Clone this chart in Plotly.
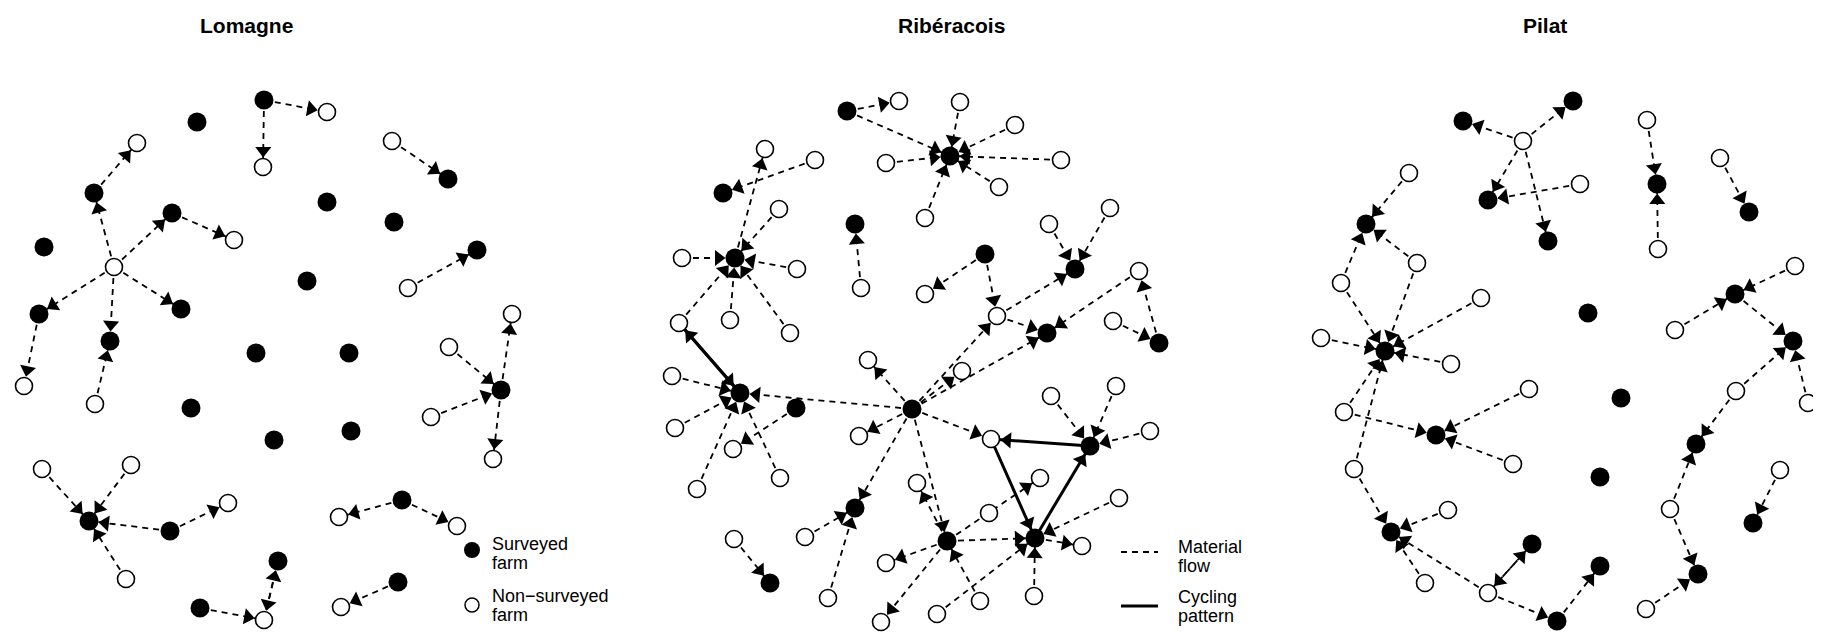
import math
import plotly.graph_objects as go

# ---------------- data ----------------
panel_titles = ["Lomagne", "Ribéracois", "Pilat"]

# Lomagne network (node layout coordinates, surveyed flag, directed flows)
lom_id = list(range(1, 47))
lom_x = [262, 325, 261, 195, 135, 92, 170, 232, 112, 42, 37, 22, 108, 93, 179, 325, 392, 305, 390, 446,
         475, 406, 510, 447, 499, 429, 491, 254, 347, 189, 272, 349, 40, 129, 87, 226, 168, 124, 400, 337,
         455, 276, 262, 198, 396, 339]
lom_y = [99, 111, 166, 121, 142, 192, 212, 239, 266, 246, 313, 385, 340, 403, 308, 201, 221, 280, 140, 178,
         249, 287, 313, 346, 389, 416, 458, 352, 352, 407, 439, 430, 468, 464, 520, 502, 530, 578, 499, 516,
         525, 560, 619, 607, 581, 606]
lom_surveyed = [1, 0, 0, 1, 0, 1, 1, 0, 0, 1, 1, 0, 1, 0, 1, 1, 1, 1, 0, 1,
                1, 0, 0, 0, 1, 0, 0, 1, 1, 1, 1, 1, 0, 0, 1, 0, 1, 0, 1, 0,
                0, 1, 0, 1, 1, 0]
lom_flows = [(1, 2), (1, 3), (6, 5), (7, 8), (9, 6), (9, 7), (9, 11), (9, 13), (9, 15), (11, 12),
             (14, 13), (19, 20), (22, 21), (24, 25), (26, 25), (25, 23), (25, 27), (33, 35), (34, 35),
             (37, 35), (38, 35), (37, 36), (39, 40), (39, 41), (44, 43), (42, 43), (43, 42), (45, 46)]
lom_cycles = []

# Ribéracois network
rib_id = [1, 2, 3, 4, 5, 6, 7, 8, 9, 10, 11, 12, 13, 14, 15, 16, 17, 18, 19, 20,
          21, 22, 23, 24, 25, 26, 27, 28, 29, 30, 31, 32, 33, 34, 35, 36, 37, 38, 39, 40,
          41, 43, 44, 45, 46, 47, 48, 49, 50, 51, 52, 53, 54, 55, 56, 57, 59, 60, 61, 62,
          63, 64, 65, 66]
rib_x = [845, 897, 948, 958, 1013, 884, 1059, 997, 923, 763, 813, 721, 733, 777, 853, 859, 680, 795, 983, 923,
         1073, 1047, 1108, 1137, 677, 728, 788, 670, 738, 794, 673, 731, 866, 857, 910, 995, 1045, 960, 989, 853,
         945, 1111, 1157, 915, 803, 826, 884, 879, 935, 1033, 978, 987, 1038, 1080, 1032, 1117, 1088, 1049, 1114, 1148,
         768, 732, 695, 778]
rib_y = [110, 100, 155, 101, 124, 162, 159, 186, 217, 148, 159, 192, 257, 208, 223, 287, 257, 268, 253, 293,
         268, 223, 207, 270, 322, 319, 332, 375, 392, 407, 427, 448, 359, 435, 408, 315, 332, 370, 438, 507,
         540, 320, 342, 482, 536, 597, 562, 621, 613, 537, 600, 512, 477, 545, 595, 497, 445, 395, 385, 430,
         582, 538, 488, 477]
rib_surveyed = [1, 0, 1, 0, 0, 0, 0, 0, 0, 0, 0, 1, 1, 0, 1, 0, 0, 0, 1, 0,
                1, 0, 0, 0, 0, 0, 0, 0, 1, 1, 0, 0, 0, 0, 1, 0, 1, 0, 0, 1,
                1, 0, 1, 0, 0, 0, 0, 0, 0, 1, 0, 0, 0, 0, 0, 0, 1, 0, 0, 0,
                1, 0, 0, 0]
rib_flows = [(1, 2), (1, 3), (4, 3), (5, 3), (6, 3), (7, 3), (8, 3), (9, 3),
             (11, 12), (13, 10), (14, 13), (17, 13), (18, 13), (25, 13), (26, 13), (27, 13),
             (16, 15), (19, 20), (19, 36), (22, 21), (23, 21), (36, 21),
             (36, 37), (24, 37), (35, 37), (35, 36), (35, 38), (43, 44), (44, 24),
             (28, 29), (31, 29), (35, 29), (65, 29), (66, 29), (30, 32),
             (35, 33), (35, 34), (35, 39), (35, 40), (35, 41), (46, 40), (47, 40), (64, 63),
             (41, 45), (41, 48), (41, 49), (52, 41), (41, 54), (41, 51),
             (50, 51), (56, 51), (57, 51), (51, 55), (60, 59), (61, 59), (62, 59)]
rib_cycles = [(25, 29), (29, 25), (39, 51), (51, 59), (59, 39)]

# Pilat network
pil_id = list(range(1, 47))
pil_x = [1461, 1571, 1521, 1486, 1578, 1546, 1645, 1655, 1656, 1718, 1747, 1793, 1733, 1407, 1364, 1339, 1415, 1479, 1586, 1319,
         1383, 1449, 1342, 1527, 1434, 1511, 1619, 1598, 1352, 1389, 1446, 1423, 1486, 1530, 1555, 1598, 1673, 1791, 1734, 1806,
         1694, 1778, 1751, 1668, 1696, 1644]
pil_y = [120, 100, 140, 199, 183, 240, 119, 183, 248, 157, 211, 265, 293, 172, 223, 282, 262, 297, 312, 337,
         350, 363, 411, 388, 434, 463, 397, 476, 468, 531, 509, 582, 592, 543, 620, 565, 329, 340, 390, 402,
         443, 469, 522, 508, 573, 608]
pil_surveyed = [1, 1, 0, 1, 0, 1, 0, 1, 0, 0, 1, 0, 1, 0, 1, 0, 0, 0, 1, 0,
                1, 0, 0, 0, 1, 0, 1, 1, 0, 1, 0, 0, 0, 1, 1, 1, 0, 1, 0, 0,
                1, 0, 1, 0, 1, 0]
pil_flows = [(3, 1), (3, 2), (3, 4), (5, 4), (3, 6), (7, 8), (9, 8), (10, 11), (12, 13), (37, 13),
             (13, 38), (39, 38), (40, 38), (14, 15), (16, 15), (17, 15), (20, 21), (16, 21), (17, 21),
             (18, 21), (22, 21), (23, 21), (29, 21), (23, 25), (24, 25), (26, 25), (29, 30), (31, 30),
             (32, 30), (33, 30), (33, 35), (33, 34), (34, 33), (35, 36), (39, 41), (44, 41), (44, 45),
             (46, 45), (42, 43)]
pil_cycles = []

node_legend = [["Surveyed", "farm"], ["Non−surveyed", "farm"]]
edge_legend = [["Material", "flow"], ["Cycling", "pattern"]]

# ---------------- styling / layout constants ----------------
W, H = 1821, 637
OFF_X, OFF_Y = 6, 7          # view offset of the layout frame
FONT = "Liberation Sans, Arial, sans-serif"
title_x = [244, 949, 1543]
title_y = 24
NODE_R = 9.5
HEAD_SIZE = 14
HEAD_R = HEAD_SIZE / 2.0
DASH = "6px,5px"

panels = [
    (lom_id, lom_x, lom_y, lom_surveyed, lom_flows, lom_cycles),
    (rib_id, rib_x, rib_y, rib_surveyed, rib_flows, rib_cycles),
    (pil_id, pil_x, pil_y, pil_surveyed, pil_flows, pil_cycles),
]

flow_x, flow_y = [], []
cyc_x, cyc_y = [], []
head_x, head_y, head_ang = [], [], []
surv_x, surv_y, non_x, non_y = [], [], [], []


def add_head(p0, p1):
    dx, dy = p1[0] - p0[0], p1[1] - p0[1]
    L = math.hypot(dx, dy)
    ux, uy = dx / L, dy / L
    d = NODE_R + HEAD_R
    head_x.append(p1[0] - ux * d)
    head_y.append(p1[1] - uy * d)
    head_ang.append(math.degrees(math.atan2(ux, -uy)))


for ids, xs, ys, surv, flows, cycles in panels:
    pos = {i: (x, y) for i, x, y in zip(ids, xs, ys)}
    for s, t in flows:
        flow_x += [pos[s][0], pos[t][0], None]
        flow_y += [pos[s][1], pos[t][1], None]
        add_head(pos[s], pos[t])
    for s, t in cycles:
        cyc_x += [pos[s][0], pos[t][0], None]
        cyc_y += [pos[s][1], pos[t][1], None]
        add_head(pos[s], pos[t])
    for i, x, y, sv in zip(ids, xs, ys, surv):
        if sv:
            surv_x.append(x); surv_y.append(y)
        else:
            non_x.append(x); non_y.append(y)

fig = go.Figure()
fig.add_trace(go.Scatter(x=flow_x, y=flow_y, mode="lines", hoverinfo="skip",
                         line=dict(color="black", width=1.8, dash=DASH)))
fig.add_trace(go.Scatter(x=cyc_x, y=cyc_y, mode="lines", hoverinfo="skip",
                         line=dict(color="black", width=3)))
fig.add_trace(go.Scatter(x=surv_x, y=surv_y, mode="markers", name="Surveyed farm",
                         marker=dict(symbol="circle", size=19, color="black", line=dict(width=0))))
fig.add_trace(go.Scatter(x=non_x, y=non_y, mode="markers", name="Non-surveyed farm",
                         marker=dict(symbol="circle", size=17, color="white",
                                     line=dict(color="black", width=1.6))))
fig.add_trace(go.Scatter(x=head_x, y=head_y, mode="markers", hoverinfo="skip",
                         marker=dict(symbol="triangle-up", size=HEAD_SIZE, color="black",
                                     angle=head_ang, line=dict(width=0))))

# ---------- legends (drawn in place, as in the original figure) ----------
leg_mark_x = 470
leg_mark_y = [549, 604]
leg_text_x = 488
leg_text_yc = [552, 604]
fig.add_trace(go.Scatter(x=[leg_mark_x], y=[leg_mark_y[0]], mode="markers", hoverinfo="skip",
                         marker=dict(symbol="circle", size=16, color="black")))
fig.add_trace(go.Scatter(x=[leg_mark_x], y=[leg_mark_y[1]], mode="markers", hoverinfo="skip",
                         marker=dict(symbol="circle", size=14, color="white",
                                     line=dict(color="black", width=1.5))))
seg_x0, seg_x1 = 1119, 1156
seg_y = [551, 605]
seg_text_x = 1174
seg_text_yc = [555, 605]
fig.add_trace(go.Scatter(x=[seg_x0, seg_x1], y=[seg_y[0], seg_y[0]], mode="lines", hoverinfo="skip",
                         line=dict(color="black", width=1.8, dash=DASH)))
fig.add_trace(go.Scatter(x=[seg_x0, seg_x1], y=[seg_y[1], seg_y[1]], mode="lines", hoverinfo="skip",
                         line=dict(color="black", width=3)))

annotations = []
for t, x in zip(panel_titles, title_x):
    annotations.append(dict(x=x, y=title_y, xref="x", yref="y", text=t, showarrow=False,
                            xanchor="center", yanchor="middle",
                            font=dict(family=FONT, size=21, color="black", weight="bold")))
LINE_H = 19
for lines, yc in zip(node_legend, leg_text_yc):
    for k, line in enumerate(lines):
        annotations.append(dict(x=leg_text_x, y=yc - LINE_H / 2 + k * LINE_H, xref="x", yref="y",
                                text=line, showarrow=False, xanchor="left", yanchor="middle",
                                font=dict(family=FONT, size=18, color="black")))
for lines, yc in zip(edge_legend, seg_text_yc):
    for k, line in enumerate(lines):
        annotations.append(dict(x=seg_text_x, y=yc - LINE_H / 2 + k * LINE_H, xref="x", yref="y",
                                text=line, showarrow=False, xanchor="left", yanchor="middle",
                                font=dict(family=FONT, size=18, color="black")))

fig.update_layout(
    width=W, height=H,
    margin=dict(l=0, r=0, t=0, b=0),
    paper_bgcolor="white", plot_bgcolor="white",
    showlegend=False,
    xaxis=dict(range=[OFF_X, W + OFF_X], visible=False, fixedrange=True),
    yaxis=dict(range=[H + OFF_Y, OFF_Y], visible=False, fixedrange=True),
    annotations=annotations,
)

fig.write_html("out.html")
